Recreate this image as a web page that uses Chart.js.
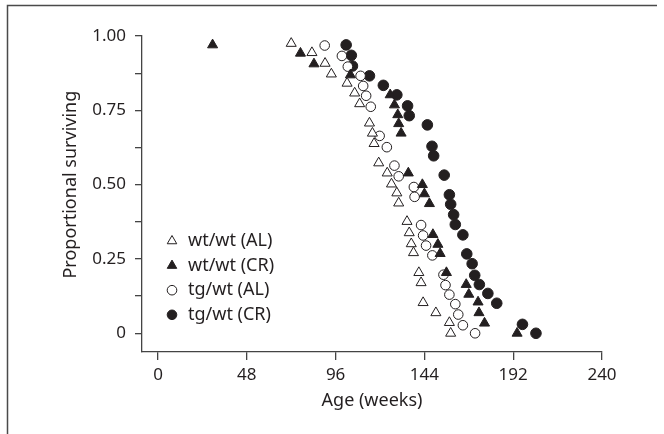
<!DOCTYPE html>
<html>
<head>
<meta charset="utf-8">
<script src="https://cdn.jsdelivr.net/npm/chart.js@4.4.1/dist/chart.umd.min.js"></script>
<style>
  html, body { margin: 0; padding: 0; background: #fff; }
</style>
</head>
<body>
<canvas id="chart" width="664" height="434"></canvas>
<script>
// tick values
const xTicks = [0, 48, 96, 144, 192, 240];
const yTicks = [0, 0.125, 0.25, 0.375, 0.5, 0.625, 0.75, 0.875, 1];

// wt/wt (AL) - open triangles
const wtAlAge = [72.0, 83.2, 90.3, 93.7, 102.2, 106.3, 109.0, 114.3, 115.9, 116.8, 119.3, 123.9, 126.2,
  129.1, 130.1, 134.6, 135.8, 136.9, 138.1, 141.0, 142.2, 143.3, 150.2, 157.5, 158.2];
const wtAlSurv = [0.975, 0.944, 0.908, 0.872, 0.841, 0.808, 0.772, 0.707, 0.673, 0.638, 0.573, 0.539, 0.502,
  0.472, 0.438, 0.376, 0.338, 0.301, 0.271, 0.204, 0.170, 0.103, 0.069, 0.036, 0.0];

// wt/wt (CR) - filled triangles
const wtCrAge = [29.5, 77.0, 84.3, 104.0, 125.5, 127.8, 129.6, 130.1, 131.4, 135.3, 142.9, 144.0, 146.7,
  148.6, 151.3, 152.5, 155.9, 166.6, 168.0, 173.0, 173.5, 176.5, 194.1];
const wtCrSurv = [0.970, 0.942, 0.906, 0.869, 0.802, 0.768, 0.735, 0.705, 0.673, 0.539, 0.500, 0.469, 0.436,
  0.332, 0.299, 0.268, 0.204, 0.164, 0.131, 0.105, 0.069, 0.034, 0.0];

// tg/wt (AL) - open circles
const tgAlAge = [90.1, 99.4, 102.6, 109.5, 110.9, 112.5, 115.0, 119.8, 123.7, 127.8, 130.1, 138.3, 138.7,
  142.2, 143.3, 144.9, 148.3, 154.3, 155.4, 157.5, 160.7, 162.3, 164.8, 171.4];
const tgAlSurv = [0.968, 0.933, 0.897, 0.866, 0.832, 0.799, 0.762, 0.664, 0.626, 0.564, 0.528, 0.492, 0.459,
  0.364, 0.329, 0.295, 0.262, 0.197, 0.162, 0.130, 0.098, 0.063, 0.027, 0.0];

// tg/wt (CR) - filled circles
const tgCrAge = [101.7, 104.5, 105.1, 114.3, 121.8, 129.1, 134.9, 135.8, 145.6, 148.1, 149.0, 154.7, 157.5,
  158.2, 159.8, 160.7, 164.8, 166.9, 169.8, 171.2, 173.7, 178.3, 183.1, 197.0, 204.3];
const tgCrSurv = [0.970, 0.935, 0.899, 0.866, 0.834, 0.802, 0.765, 0.732, 0.701, 0.629, 0.597, 0.532, 0.466,
  0.434, 0.399, 0.366, 0.331, 0.267, 0.234, 0.195, 0.164, 0.134, 0.101, 0.030, 0.0];

const INK = "#231f20";
const FONT = "'Noto Sans', 'Open Sans', sans-serif";

function toPoints(ages, surv) {
  return ages.map((a, i) => ({ x: a, y: surv[i] }));
}

function series(label, ages, surv, style, filled, radius) {
  return {
    label: label,
    data: toPoints(ages, surv),
    pointStyle: style,
    pointRadius: radius,
    pointHoverRadius: radius,
    pointBorderWidth: 1,
    borderColor: INK,
    backgroundColor: filled ? INK : "#ffffff",
    showLine: false,
  };
}

// frame, axis titles and the legend are drawn by hand
const decorations = {
  id: "decorations",
  afterDraw(chart) {
    const ctx = chart.ctx;
    ctx.save();

    // outer frame (top + left)
    ctx.strokeStyle = "#4a4a4a";
    ctx.lineWidth = 1.5;
    ctx.beginPath();
    ctx.moveTo(7.5, 434);
    ctx.lineTo(7.5, 5.5);
    ctx.lineTo(657, 5.5);
    ctx.stroke();

    ctx.fillStyle = INK;
    ctx.font = "18px " + FONT;
    ctx.textAlign = "center";
    ctx.textBaseline = "middle";

    // x title centred under the axis
    const xs = chart.scales.x;
    ctx.fillText("Age (weeks)", (xs.left + xs.right) / 2, 401);

    // y title centred on the 0..1 range
    const ys = chart.scales.y;
    const yMid = (ys.getPixelForValue(0) + ys.getPixelForValue(1)) / 2;
    ctx.save();
    ctx.translate(71, yMid);
    ctx.rotate(-Math.PI / 2);
    ctx.fillText("Proportional surviving", 0, 0);
    ctx.restore();

    // legend
    ctx.textAlign = "left";
    chart.data.datasets.forEach((ds, i) => {
      const y = 241 + i * 24.6;
      ctx.fillStyle = ds.backgroundColor;
      ctx.strokeStyle = ds.borderColor;
      ctx.lineWidth = 1;
      Chart.helpers.drawPoint(ctx, {
        pointStyle: ds.pointStyle,
        radius: ds.pointStyle === "triangle" ? 5.5 : 4.8,
        rotation: 0,
        borderWidth: 1,
      }, 172, y);
      ctx.fillStyle = INK;
      ctx.fillText(ds.label, 188, y);
    });

    ctx.restore();
  },
};

const axisColor = "#444";

new Chart(document.getElementById("chart").getContext("2d"), {
  type: "scatter",
  data: {
    datasets: [
      series("wt/wt (AL)", wtAlAge, wtAlSurv, "triangle", false, 5.8),
      series("wt/wt (CR)", wtCrAge, wtCrSurv, "triangle", true, 5.8),
      series("tg/wt (AL)", tgAlAge, tgAlSurv, "circle", false, 4.8),
      series("tg/wt (CR)", tgCrAge, tgCrSurv, "circle", true, 5.3),
    ],
  },
  options: {
    responsive: false,
    animation: false,
    devicePixelRatio: 1,
    layout: { padding: { left: 0, right: 62, top: 36, bottom: 0 } },
    plugins: {
      legend: { display: false },
      tooltip: { enabled: false },
      title: { display: false },
    },
    scales: {
      x: {
        type: "linear",
        min: -8.66,
        max: 240,
        afterBuildTicks: (axis) => { axis.ticks = xTicks.map((v) => ({ value: v })); },
        afterFit: (axis) => { axis.height = 82; },
        border: { color: axisColor, width: 1.3 },
        grid: { drawOnChartArea: false, drawTicks: true, tickLength: 8, color: axisColor, lineWidth: 1.3 },
        ticks: {
          autoSkip: false,
          maxRotation: 0,
          padding: 5,
          color: INK,
          font: { family: FONT, size: 17 },
        },
      },
      y: {
        type: "linear",
        min: -0.063,
        max: 1,
        afterBuildTicks: (axis) => { axis.ticks = yTicks.map((v) => ({ value: v })); },
        afterFit: (axis) => { axis.width = 142; },
        border: { color: axisColor, width: 1.3 },
        grid: { drawOnChartArea: false, drawTicks: true, tickLength: 7, color: axisColor, lineWidth: 1.3 },
        ticks: {
          autoSkip: false,
          padding: 9,
          color: INK,
          font: { family: FONT, size: 17 },
          callback: (v) => {
            if (Math.abs((v * 4) - Math.round(v * 4)) > 1e-6) return "";
            return v === 0 ? "0" : v.toFixed(2);
          },
        },
      },
    },
  },
  plugins: [decorations],
});
</script>
</body>
</html>
